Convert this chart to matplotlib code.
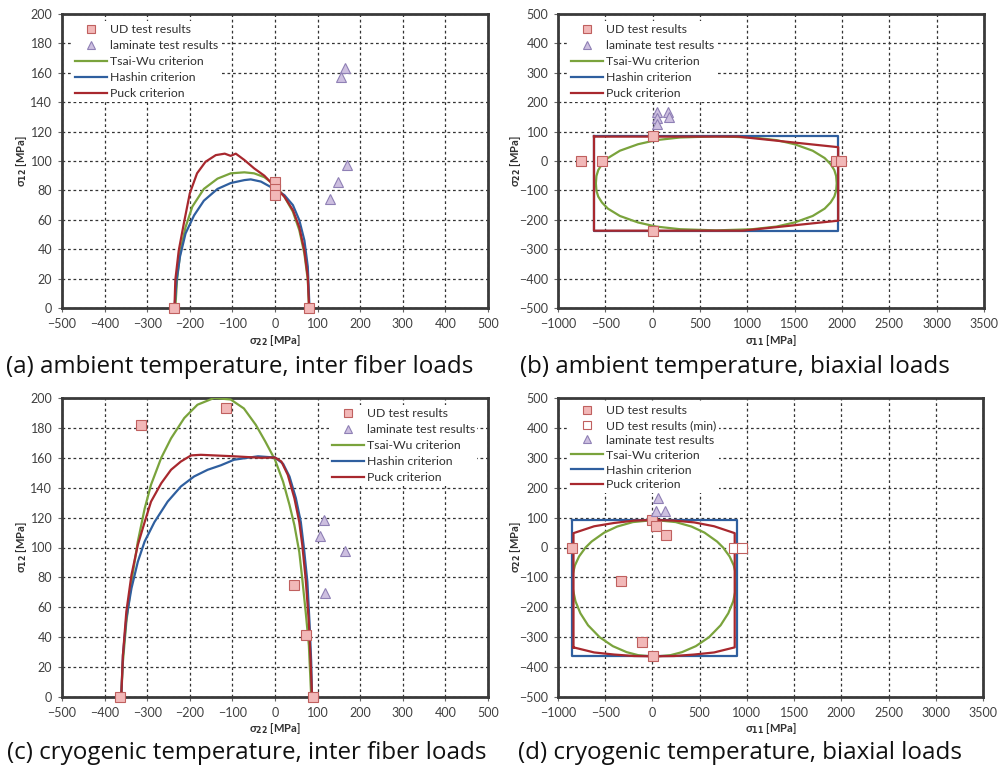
import matplotlib
matplotlib.use('Agg')
import matplotlib.pyplot as plt

plt.rcParams['font.family'] = ['Lato', 'DejaVu Sans']

# ---------------- data: (a) ambient, inter fiber loads ----------------
a_ud_x = [-236, 0, 0, 0, 80]
a_ud_y = [0, 86, 81, 77, 0]
a_lam_x = [165, 156, 169, 149, 130]
a_lam_y = [163, 157, 97, 86, 74]
a_tw_x = [-234, -230, -222, -210, -194, -167, -135, -104, -72, -49, -25, 0, 22, 42, 57, 69, 77, 80]
a_tw_y = [0, 19, 39, 55, 69, 81, 88, 91.6, 92.3, 91.6, 89, 83.6, 75.7, 65.5, 53, 37, 19, 0]
a_ha_x = [-236, -231, -223, -210, -190, -167, -135, -104, -72, -57, -33, 0, 22, 42, 57, 69, 77, 81]
a_ha_y = [0, 19, 35, 50.7, 63, 73, 81, 85, 87, 87.5, 86, 80.7, 76.8, 70, 59.8, 46, 28, 0]
a_pu_x = [-236, -234, -226, -214, -200, -183, -163, -139, -118, -104, -92, -72, -49, -25, 0, 22, 42, 57, 69, 77, 80]
a_pu_y = [0, 19, 39, 57.5, 78, 91.6, 99.5, 104, 105, 103.5, 105, 100.7, 95, 90, 82.5, 75.7, 66.6, 55, 39, 21, 0]

# ---------------- data: (b) ambient, biaxial loads ----------------
b_ud_x = [-755, -535, 0, 0, 1940, 1985]
b_ud_y = [0, 0, 84, -238, 0, 0]
b_lam_x = [50, 42, 42, 165, 172]
b_lam_y = [165, 145, 125, 165, 150]
b_tw_x = [-600, -594, -575, -536, -473, -346, -155, 36, 290, 672, 1054, 1308, 1499, 1690, 1817, 1880, 1919,
          1938, 1944, 1938, 1919, 1880, 1817, 1690, 1499, 1308, 1054, 672, 290, 36, -155, -346, -473, -536,
          -575, -594, -600]
b_tw_y = [-76, -51, -31, -11, 10, 35, 57, 71, 80, 84, 80, 71, 57, 35, 10, -11, -31,
          -51, -76, -101, -121, -141, -162, -187, -209, -223, -232, -236, -232, -223, -209, -187, -162, -141,
          -121, -101, -76]
b_ha_x = [-620, 1960, 1960, -620, -620]
b_ha_y = [86, 86, -238, -238, 86]
b_pu_x = [-620, 900, 1960, 1960, 950, -620, -620]
b_pu_y = [83, 83, 47, -203, -237, -237, 83]

# ---------------- data: (c) cryogenic, inter fiber loads ----------------
c_ud_x = [-364, -314, -115, 44, 72, 89]
c_ud_y = [0, 181.7, 193.3, 75, 41.8, 0]
c_lam_x = [116, 106, 165, 118]
c_lam_y = [118.4, 108, 97.6, 69.7]
c_tw_x = [-361, -357, -349, -337, -322, -306, -291, -267, -244, -213, -182, -143, -104, -73,
          -45, -23, 0, 19, 34, 45.5, 57, 64, 72, 79.5, 85]
c_tw_y = [0, 23.5, 50, 77, 104, 126, 142, 160, 173, 186.6, 195.5, 200, 199, 193,
          182, 171, 158.7, 144, 128.5, 115, 97, 79, 57, 34.6, 0]
c_ha_x = [-361, -357, -349, -337, -322, -306, -283, -252, -221, -190, -158, -127, -96, -65, -40,
          0, 19, 34, 49, 60.6, 68, 76, 81, 85, 87]
c_ha_y = [0, 28, 52.5, 72.6, 90.5, 104, 117, 130.7, 140.8, 147.5, 152, 155, 158.7, 160, 161,
          160.2, 156, 147.5, 133, 117, 99.4, 77, 50, 23.5, 0]
c_pu_x = [-361, -357, -349, -337, -322, -306, -291, -267, -244, -221, -197, -174, -96, -34,
          0, 15, 30, 45.5, 57, 64, 72, 79.5, 83, 87]
c_pu_y = [0, 28, 57, 81.6, 101.7, 117, 130.7, 143, 152, 157.5, 161.6, 162, 161, 160,
          160.2, 157.5, 148.6, 133, 117, 101.7, 79, 50, 28, 0]

# ---------------- data: (d) cryogenic, biaxial loads ----------------
d_ud_x = [-847, 0, 35, 141, -335, -106, 11]
d_ud_y = [0, 93, 71, 43, -111, -317, -364]
d_udmin_x = [865, 950]
d_udmin_y = [0, 0]
d_lam_x = [60, 42, 134]
d_lam_y = [166, 121, 121]
d_tw_x = [20, 247, 414, 550, 684, 748, 817, 861, 884, 888, 882, 855, 803, 722, 599, 459, 313, 192, 20,
          -152, -273, -419, -559, -682, -763, -815, -842, -848, -844, -821, -777, -708, -644, -510, -374, -207, 20]
d_tw_y = [92, 85, 70, 50, 20, 0, -30, -60, -90, -110, -140, -180, -220, -260, -300, -330, -350, -360, -365,
          -360, -350, -330, -300, -260, -220, -180, -140, -110, -90, -60, -30, 0, 20, 50, 70, 85, 92]
d_ha_x = [-847, 893, 893, -847, -847]
d_ha_y = [91, 91, -364, -364, 91]
d_pu_x = [-836, -836, -617, -406, -194, 0, 229, 441, 653, 871, 871, 653, 441, 229, 0, -194, -406, -617, -836]
d_pu_y = [-334, 48, 71, 82, 90, 92, 90, 84, 71, 48, -334, -351, -358, -363, -364, -363, -358, -351, -334]

captions = ["(a) ambient temperature, inter fiber loads",
            "(b) ambient temperature, biaxial loads",
            "(c) cryogenic temperature, inter fiber loads",
            "(d) cryogenic temperature, biaxial loads"]

# ---------------- styles ----------------
GREEN = '#7aa33c'
BLUE = '#2f5f9f'
RED = '#a8282e'
SQ_FACE = '#f2b8b8'
SQ_EDGE = '#c0605f'
TRI_FACE = '#cdbfe0'
TRI_EDGE = '#8f80b5'

fig = plt.figure(figsize=(10, 7.71), dpi=100)
W = 771.0


def make_ax(left, top, right, bottom):
    return fig.add_axes([left / 1000, 1 - bottom / W, (right - left) / 1000, (bottom - top) / W])


def setup(ax, xlim, xticks, ylim, yticks, xlabel, ylabel, ylpad=1):
    ax.set_xlim(xlim)
    ax.set_ylim(ylim)
    ax.set_xticks(xticks)
    ax.set_yticks(yticks)
    ax.grid(True, color='#333333', linestyle=(0, (2.2, 2.2)), linewidth=0.9)
    ax.set_axisbelow(True)
    for s in ax.spines.values():
        s.set_linewidth(2.0)
        s.set_color('#3a3a3a')
    ax.tick_params(direction='out', length=3, width=0.8, color='#666666',
                   labelsize=9, labelcolor='#404040', pad=4)
    ax.set_xlabel(xlabel, fontsize=8, fontweight='bold', labelpad=2, color='#303030',
                  family=['Lato', 'DejaVu Sans'])
    ax.set_ylabel(ylabel, fontsize=8, fontweight='bold', labelpad=ylpad, color='#303030',
                  family=['Lato', 'DejaVu Sans'])


def draw(ax, tw, ha, pu, ud, lam, udmin=None):
    ax.plot(tw[0], tw[1], color=GREEN, lw=1.6, label='Tsai-Wu criterion', zorder=3)
    ax.plot(ha[0], ha[1], color=BLUE, lw=1.6, label='Hashin criterion', zorder=3)
    ax.plot(pu[0], pu[1], color=RED, lw=1.6, label='Puck criterion', zorder=4)
    ax.plot(ud[0], ud[1], ls='none', marker='s', ms=7.2, mfc=SQ_FACE, mec=SQ_EDGE, mew=0.8,
            label='UD test results', zorder=6, clip_on=False)
    if udmin is not None:
        ax.plot(udmin[0], udmin[1], ls='none', marker='s', ms=7.2, mfc='white', mec=SQ_EDGE, mew=0.8,
                label='UD test results (min)', zorder=6, clip_on=False)
    ax.plot(lam[0], lam[1], ls='none', marker='^', ms=7, mfc=TRI_FACE, mec=TRI_EDGE, mew=0.8,
            label='laminate test results', zorder=6, clip_on=False)


def legend(ax, loc, anchor, udmin=False, spacing=0.42):
    h, l = ax.get_legend_handles_labels()
    d = dict(zip(l, h))
    order = ['UD test results']
    if udmin:
        order.append('UD test results (min)')
    order += ['laminate test results', 'Tsai-Wu criterion', 'Hashin criterion', 'Puck criterion']
    leg = ax.legend([d[k] for k in order], order, loc=loc, bbox_to_anchor=anchor,
                    fontsize=8.8, frameon=True, framealpha=1, edgecolor='none', facecolor='white',
                    handlelength=2.6, handletextpad=0.25, labelspacing=spacing, borderpad=0.2,
                    borderaxespad=0.0, fancybox=False, markerscale=0.85)
    for t in leg.get_texts():
        t.set_color('#303030')
    leg.set_zorder(10)


xt_ifl = list(range(-500, 501, 100))
yt_ifl = list(range(0, 201, 20))
xt_bi = list(range(-1000, 3501, 500))
yt_bi = list(range(-500, 501, 100))

lab_s22 = r'σ$_{\mathbf{22}}$ [MPa]'
lab_s12 = r'σ$_{\mathbf{12}}$ [MPa]'
lab_s11 = r'σ$_{\mathbf{11}}$ [MPa]'

# (a)
axa = make_ax(62, 14, 488, 308)
setup(axa, (-500, 500), xt_ifl, (0, 200), yt_ifl, lab_s22, lab_s12)
draw(axa, (a_tw_x, a_tw_y), (a_ha_x, a_ha_y), (a_pu_x, a_pu_y), (a_ud_x, a_ud_y), (a_lam_x, a_lam_y))
legend(axa, 'upper left', (0.025, 0.975))

# (b)
axb = make_ax(558, 14, 984, 308)
setup(axb, (-1000, 3500), xt_bi, (-500, 500), yt_bi, lab_s11, lab_s22, ylpad=-3)
draw(axb, (b_tw_x, b_tw_y), (b_ha_x, b_ha_y), (b_pu_x, b_pu_y), (b_ud_x, b_ud_y), (b_lam_x, b_lam_y))
legend(axb, 'upper left', (0.025, 0.975))

# (c)
axc = make_ax(62, 398, 488, 697)
setup(axc, (-500, 500), xt_ifl, (0, 200), yt_ifl, lab_s22, lab_s12)
draw(axc, (c_tw_x, c_tw_y), (c_ha_x, c_ha_y), (c_pu_x, c_pu_y), (c_ud_x, c_ud_y), (c_lam_x, c_lam_y))
legend(axc, 'upper right', (0.975, 0.975))

# (d)
axd = make_ax(558, 398, 983, 697)
setup(axd, (-1000, 3500), xt_bi, (-500, 500), yt_bi, lab_s11, lab_s22, ylpad=-3)
draw(axd, (d_tw_x, d_tw_y), (d_ha_x, d_ha_y), (d_pu_x, d_pu_y), (d_ud_x, d_ud_y), (d_lam_x, d_lam_y),
     udmin=(d_udmin_x, d_udmin_y))
legend(axd, 'upper left', (0.025, 0.985), udmin=True, spacing=0.32)

cap_pos = [(6, 367), (520, 367), (7, 753), (518, 753)]
for (cx, cy), txt in zip(cap_pos, captions):
    fig.text(cx / 1000, 1 - cy / W, txt, ha='left', va='center', fontsize=17.4,
             family=['Open Sans', 'DejaVu Sans'], color='#111111')

fig.savefig('out.png', dpi=100)
